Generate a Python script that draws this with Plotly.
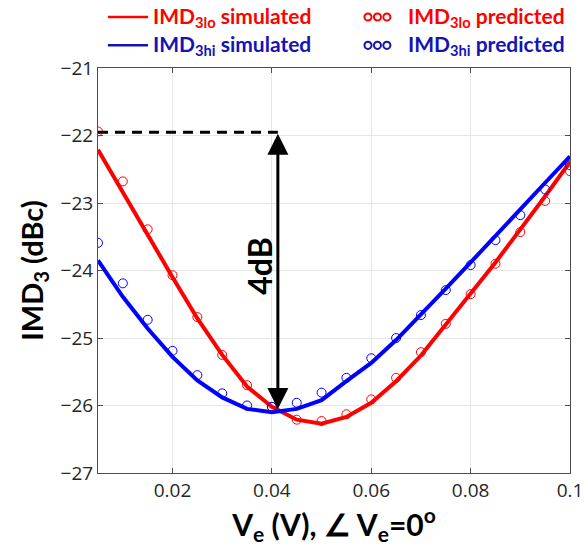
import plotly.graph_objects as go

# ---------------- data ----------------
ve = [0.005, 0.01, 0.015, 0.02, 0.025, 0.03, 0.035, 0.04, 0.045, 0.05,
      0.055, 0.06, 0.065, 0.07, 0.075, 0.08, 0.085, 0.09, 0.095, 0.1]

lo_sim = [-22.21, -22.85, -23.47, -24.10, -24.71, -25.25, -25.72, -26.02, -26.21, -26.27,
          -26.17, -25.96, -25.64, -25.26, -24.81, -24.34, -23.88, -23.40, -22.90, -22.39]
hi_sim = [-23.85, -24.39, -24.86, -25.28, -25.63, -25.88, -26.05, -26.10, -26.05, -25.92,
          -25.64, -25.37, -25.03, -24.66, -24.27, -23.88, -23.48, -23.09, -22.70, -22.31]

lo_pred = [-21.94, -22.68, -23.39, -24.07, -24.69, -25.25, -25.70, -26.02, -26.21, -26.23,
           -26.13, -25.91, -25.59, -25.21, -24.79, -24.35, -23.90, -23.43, -22.97, -22.53]
hi_pred = [-23.59, -24.19, -24.73, -25.19, -25.55, -25.82, -26.00, -26.02, -25.96, -25.81,
           -25.59, -25.30, -25.00, -24.66, -24.29, -23.92, -23.55, -23.18, -22.80, -22.44]

x_ticks = [0.02, 0.04, 0.06, 0.08, 0.1]
x_ticklabels = ["0.02", "0.04", "0.06", "0.08", "0.1"]
y_ticks = [-27, -26, -25, -24, -23, -22, -21]
y_ticklabels = ["\u221227", "\u221226", "\u221225", "\u221224", "\u221223", "\u221222", "\u221221"]

arrow_x = 0.0412
arrow_top = -21.95
arrow_bottom = -26.05

RED = "#ff0000"
BLUE = "#0000ff"
BLUE_TXT = "#1414b4"

fig = go.Figure()
fig.add_trace(go.Scatter(x=ve, y=lo_sim, mode="lines", line=dict(color=RED, width=4)))
fig.add_trace(go.Scatter(x=ve, y=hi_sim, mode="lines", line=dict(color=BLUE, width=4)))
fig.add_trace(go.Scatter(x=ve, y=lo_pred, mode="markers",
                         marker=dict(symbol="circle-open", size=9, color=RED, line=dict(width=1, color=RED))))
fig.add_trace(go.Scatter(x=ve, y=hi_pred, mode="markers",
                         marker=dict(symbol="circle-open", size=9, color=BLUE, line=dict(width=1, color=BLUE))))

# dashed reference line
fig.add_shape(type="line", xref="x", yref="y", x0=ve[0], x1=arrow_x, y0=arrow_top, y1=arrow_top,
              line=dict(color="black", width=3, dash="10px,7px"))
# double-headed arrow
fig.add_annotation(x=arrow_x, y=arrow_bottom, ax=arrow_x, ay=arrow_top, xref="x", yref="y",
                   axref="x", ayref="y", text="", showarrow=True, arrowhead=2, arrowside="end+start",
                   arrowsize=1.4, arrowwidth=3, arrowcolor="black", startarrowhead=2, startarrowsize=1.4)
fig.add_annotation(x=0.0376, y=-23.93, xref="x", yref="y", text="<b>4dB</b>", showarrow=False,
                   textangle=-90, font=dict(family="Lato", size=32, color="black"))

# custom legend
legend_font = dict(family="Lato", size=21)
rows = [(1.126, RED, RED, "IMD<sub>3lo</sub>"), (1.056, BLUE_TXT, BLUE_TXT, "IMD<sub>3hi</sub>")]
for yy, lcol, tcol, name in rows:
    fig.add_shape(type="line", xref="paper", yref="paper", x0=0.021, x1=0.106, y0=yy, y1=yy,
                  line=dict(color=lcol, width=2.5))
    fig.add_annotation(x=0.112, y=yy, xref="paper", yref="paper", xanchor="left", yanchor="middle",
                       text="<b>" + name + " simulated</b>", showarrow=False,
                       font=dict(color=tcol, **legend_font))
    for cx in [0.572, 0.592, 0.612]:
        fig.add_shape(type="circle", xref="paper", yref="paper",
                      x0=cx - 0.0075, x1=cx + 0.0075, y0=yy - 0.0088, y1=yy + 0.0088,
                      line=dict(color=lcol, width=2))
    fig.add_annotation(x=0.653, y=yy, xref="paper", yref="paper", xanchor="left", yanchor="middle",
                       text="<b>" + name + " predicted</b>", showarrow=False,
                       font=dict(color=tcol, **legend_font))

axis_common = dict(showline=True, linecolor="#4d4d4d", linewidth=1, mirror="ticks", ticks="inside",
                   ticklen=5, tickcolor="#4d4d4d", showgrid=True, gridcolor="#e6e6e6", gridwidth=1,
                   zeroline=False, automargin=False,
                   tickfont=dict(family="Open Sans", size=19, color="#262626"))

fig.update_xaxes(range=[0.005, 0.1], tickvals=x_ticks, ticktext=x_ticklabels,
                 title=dict(text="<b>V<sub>e</sub> (V), \u2220 V<sub>e</sub>=0<sup>o</sup></b>",
                            font=dict(family="Lato", size=30, color="black"), standoff=6),
                 **axis_common)
fig.update_yaxes(range=[-27, -21], tickvals=y_ticks, ticktext=y_ticklabels,
                 title=dict(text="<b>IMD<sub>3</sub> (dBc)</b>",
                            font=dict(family="Lato", size=29, color="black"), standoff=8),
                 **axis_common)

fig.update_layout(width=586, height=546, margin=dict(l=98, r=16, t=68, b=73),
                  plot_bgcolor="white", paper_bgcolor="white", showlegend=False)

fig.write_html("out.html")
